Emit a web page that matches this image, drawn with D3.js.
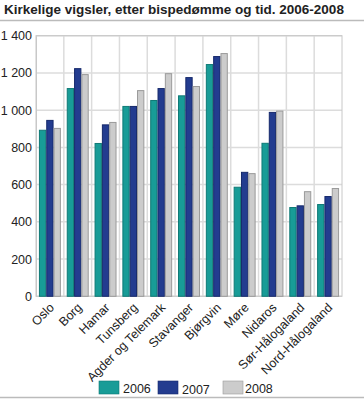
<!DOCTYPE html>
<html><head><meta charset="utf-8">
<script src="https://cdn.jsdelivr.net/npm/d3@7"></script>
<style>body{margin:0;background:#fff;}svg{display:block;font-family:"Liberation Sans",Arial,sans-serif;}</style>
</head><body>
<script>
const categories = ["Oslo","Borg","Hamar","Tunsberg","Agder og Telemark","Stavanger","Bjørgvin","Møre","Nidaros","Sør-Hålogaland","Nord-Hålogaland"];
const series = ["2006","2007","2008"];
const v2006 = [892, 1116, 821, 1020, 1052, 1077, 1245, 586, 822, 477, 493];
const v2007 = [945, 1223, 921, 1020, 1116, 1175, 1288, 666, 988, 486, 536];
const v2008 = [902, 1191, 934, 1105, 1196, 1127, 1304, 659, 995, 562, 579];
const yTicks = [0,200,400,600,800,1000,1200,1400];
const colors = ["#189c97","#233c8f","#cccccc"];
const strokes = ["#0f7a76","#16296b","#9a9a9a"];
const title = "Kirkelige vigsler, etter bispedømme og tid. 2006-2008";

const W=364,H=399;
const svg=d3.select("body").append("svg").attr("width",W).attr("height",H);
svg.append("text").attr("x",4).attr("y",14).attr("font-size",13.5).attr("font-weight","bold").attr("fill","#222").text(title);
svg.append("line").attr("x1",0).attr("x2",W).attr("y1",20.5).attr("y2",20.5).attr("stroke","#bbb").attr("stroke-width",1.5);
svg.append("line").attr("x1",0).attr("x2",W).attr("y1",397.5).attr("y2",397.5).attr("stroke","#bbb").attr("stroke-width",1.5);

const L=36,R=342,T=35.7,B=296.3;
const x0=d3.scaleBand().domain(categories).range([L,R]).padding(0);
const x1=d3.scaleBand().domain(series).range([0,x0.bandwidth()]).paddingInner(0).paddingOuter(0.4);
const y=d3.scaleLinear().domain([0,1400]).range([B,T]);
const data=[v2006,v2007,v2008];

// grid
const g=svg.append("g");
g.selectAll(".hg").data(yTicks).enter().append("line")
 .attr("x1",L).attr("x2",R).attr("y1",d=>y(d)).attr("y2",d=>y(d)).attr("stroke","#dcdcdc").attr("stroke-width",1.5);
g.selectAll(".vg").data(categories.slice(1)).enter().append("line")
 .attr("x1",d=>x0(d)).attr("x2",d=>x0(d)).attr("y1",T).attr("y2",B).attr("stroke","#dcdcdc").attr("stroke-width",1.5);
g.append("rect").attr("x",L).attr("y",T).attr("width",R-L).attr("height",B-T).attr("fill","none").attr("stroke","#c8c8c8").attr("stroke-width",1);

// bars
series.forEach((s,si)=>{
  svg.append("g").selectAll("rect").data(categories).enter().append("rect")
   .attr("x",c=>x0(c)+x1(s)+0.5).attr("width",x1.bandwidth()-1)
   .attr("y",(c,i)=>y(data[si][i])).attr("height",(c,i)=>B-y(data[si][i]))
   .attr("fill",colors[si]).attr("stroke",strokes[si]).attr("stroke-width",1);
});

// y axis
const yAxis=d3.axisLeft(y).tickValues(yTicks).tickSize(0).tickPadding(4);
const ya=svg.append("g").attr("transform",`translate(${L},0)`).call(yAxis);
ya.select(".domain").attr("stroke","#c8c8c8");
ya.selectAll("text").attr("font-size",12.5).attr("fill","#222").attr("font-family","Liberation Sans, Arial, sans-serif")
  .text(d=>d>=1000? String(Math.floor(d/1000))+" "+String(d%1000).padStart(3,"0") : String(d));

// x axis
const xAxis=d3.axisBottom(x0).tickSize(0).tickPadding(0);
const xa=svg.append("g").attr("transform",`translate(0,${B})`).call(xAxis);
xa.select(".domain").remove();
xa.selectAll("text").attr("font-size",12.5).attr("fill","#222").attr("font-family","Liberation Sans, Arial, sans-serif")
  .attr("text-anchor","end").attr("dy",0).attr("y",0)
  .attr("transform","translate(5,12) rotate(-45)");

// legend
const lg=svg.append("g");
const lx=[99,158,223];
series.forEach((s,i)=>{
  lg.append("rect").attr("x",lx[i]).attr("y",381).attr("width",20).attr("height",13).attr("fill",colors[i]).attr("stroke",strokes[i]).attr("stroke-width",0.6);
  lg.append("text").attr("x",lx[i]+24-(i==2?2:0)).attr("y",393+(i==1?1:0)).attr("font-size",12.5).attr("fill","#222").text(s);
});
</script>
</body></html>
